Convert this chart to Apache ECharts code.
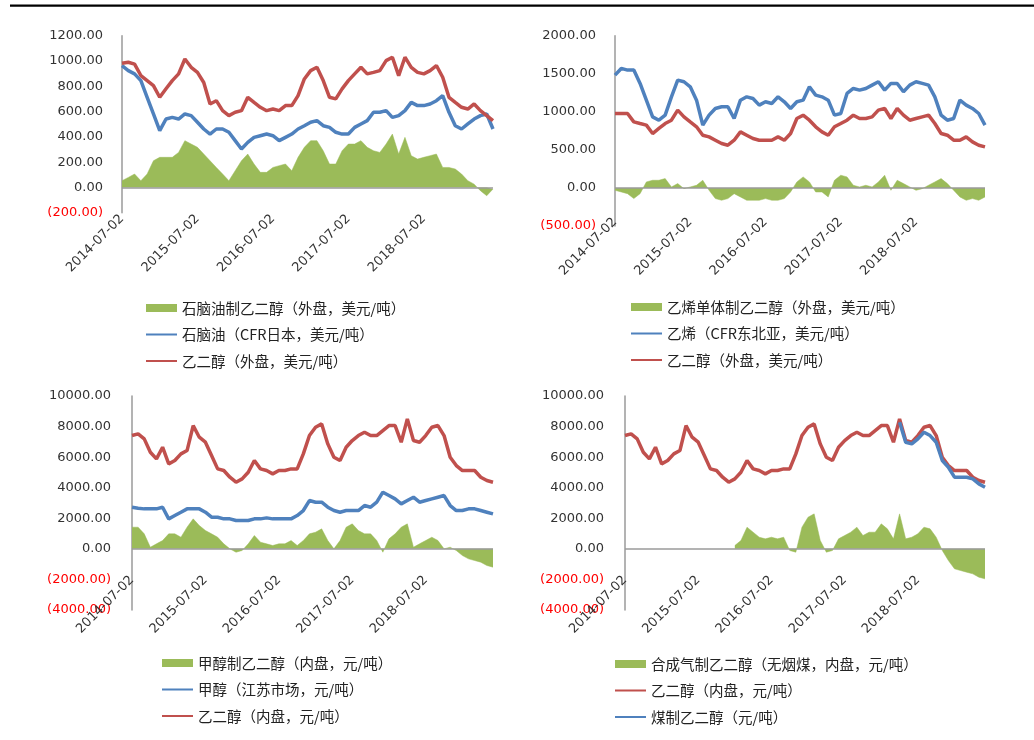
<!DOCTYPE html>
<html><head><meta charset="utf-8">
<script src="https://cdn.jsdelivr.net/npm/echarts@6/dist/echarts.min.js"></script>
<style>html,body{margin:0;padding:0;background:#fff}#c{width:1034px;height:740px}</style>
</head><body><div id="c"></div>
<script>
// ---- categories (monthly, 2014-07 .. 2019-06) ----
const dates = [];
for (let i = 0; i < 60; i++) {
  const m = 6 + i;
  const y = 2014 + Math.floor(m / 12);
  const mm = (m % 12) + 1;
  dates.push(y + '-' + (mm < 10 ? '0' + mm : mm) + '-02');
}
const xTickLabels = ['2014-07-02', '2015-07-02', '2016-07-02', '2017-07-02', '2018-07-02'];

// ---- chart 1: naphtha route (USD/t) ----
const naphthaMargin = [53,79,106,53,106,211,238,238,238,277,370,343,317,264,211,158,106,53,132,211,264,185,119,119,158,172,185,132,238,317,370,370,290,185,185,290,343,343,370,317,290,277,343,422,264,396,251,224,238,251,264,158,158,145,106,53,26,-26,-66,-13];
const naphthaPrice = [964,924,898,845,713,581,449,541,554,541,581,568,515,462,422,462,462,436,370,304,356,396,409,422,409,370,396,422,462,488,515,528,488,475,436,422,422,475,502,528,594,594,607,554,568,607,673,647,647,660,686,726,594,488,462,502,541,568,581,462];
const megUsd1 = [982,990,975,885,845,805,713,780,845,898,1016,950,910,830,660,686,607,568,594,607,713,673,634,607,620,607,647,647,726,858,924,950,845,713,700,779,845,898,950,898,910,924,1003,1030,884,1030,950,910,898,924,964,871,713,673,634,620,660,607,568,528];

// ---- chart 2: ethylene route (USD/t) ----
const ethyleneMargin = [-31,-53,-75,-140,-75,79,101,101,123,13,57,-9,13,35,101,-31,-140,-162,-140,-75,-118,-162,-162,-162,-140,-162,-162,-140,-53,79,145,79,-53,-53,-118,101,167,145,35,13,35,13,79,167,-31,101,57,13,-31,-9,35,79,123,57,-31,-118,-162,-140,-162,-118];
const ethylenePrice = [1482,1570,1548,1548,1373,1153,934,890,956,1197,1417,1395,1329,1153,825,956,1044,1066,1066,912,1153,1197,1175,1088,1132,1110,1197,1132,1044,1132,1153,1329,1219,1197,1153,956,978,1241,1307,1285,1307,1351,1395,1285,1373,1373,1263,1351,1395,1373,1351,1197,956,890,912,1153,1088,1044,978,825];
const megUsd2 = [978,978,978,868,846,825,715,781,846,890,1022,934,868,803,693,671,627,583,561,627,737,693,649,627,627,627,671,627,715,912,956,890,803,737,693,803,846,890,956,912,912,934,1022,1044,912,1044,956,890,912,934,956,846,715,693,627,627,671,605,561,539];

// ---- chart 3: methanol route (CNY/t) ----
const methanolMargin = [1417,1417,981,109,327,545,981,981,763,1417,1962,1526,1199,981,763,327,0,-218,-109,327,872,436,327,218,327,327,545,218,545,981,1090,1308,545,0,545,1417,1635,1199,981,981,545,-218,654,981,1417,1635,109,327,545,763,545,0,109,-109,-436,-654,-763,-872,-1090,-1199];
const methanolPrice = [2725,2660,2616,2616,2616,2725,1962,2180,2398,2616,2616,2616,2398,2071,2071,1962,1962,1853,1853,1853,1962,1962,2027,1962,1962,1962,1962,2180,2507,3161,3052,3052,2725,2507,2398,2507,2507,2507,2834,2725,3052,3706,3488,3270,2943,3161,3379,3052,3161,3270,3379,3488,2834,2507,2507,2616,2616,2507,2398,2289];
const megCny = [7412,7521,7194,6322,5886,6649,5559,5777,6213,6431,8066,7303,6976,6104,5232,5123,4687,4360,4578,5014,5777,5232,5123,4905,5123,5123,5232,5232,6213,7412,7957,8175,6867,5995,5777,6649,7085,7412,7630,7412,7412,7739,8066,8066,6976,8502,7085,6976,7412,7957,8066,7412,5995,5450,5123,5123,5123,4687,4469,4360];

// ---- chart 4: syngas (coal) route (CNY/t) ----
const coalMargin = [null,null,null,null,null,null,null,null,null,null,null,null,null,null,null,null,null,null,
  218,545,1417,1090,763,654,763,654,763,-109,-218,1417,2071,2289,545,-218,-109,654,872,1090,1417,872,1090,1090,1635,1308,654,2289,654,763,981,1417,1308,763,-109,-763,-1308,-1417,-1526,-1635,-1853,-1962];
const coalMegPrice = [null,null,null,null,null,null,null,null,null,null,null,null,null,null,null,null,null,null,null,null,null,null,null,null,null,null,null,null,null,null,null,null,null,null,null,null,null,null,null,null,null,null,null,null,null,
  8284,6976,6867,7194,7630,7412,6976,5777,5341,4687,4687,4687,4578,4251,4033];

// ---- names ----
const names = [
  ['石脑油制乙二醇（外盘，美元/吨）', '石脑油（CFR日本，美元/吨）', '乙二醇（外盘，美元/吨）'],
  ['乙烯单体制乙二醇（外盘，美元/吨）', '乙烯（CFR东北亚，美元/吨）', '乙二醇（外盘，美元/吨）'],
  ['甲醇制乙二醇（内盘，元/吨）', '甲醇（江苏市场，元/吨）', '乙二醇（内盘，元/吨）'],
  ['合成气制乙二醇（无烟煤，内盘，元/吨）', '乙二醇（内盘，元/吨）', '煤制乙二醇（元/吨）']
];

const GREEN = '#9BBB59', BLUE = '#4F81BD', RED = '#C0504D';
const AXIS_FONT = 'DejaVu Sans';
const CJK_FONT = '"Noto Sans CJK SC", sans-serif';
const LINE_ICON = 'path://M0,0L0.01,0Z M0,3L31,3L31,5L0,5Z M0,8L0.01,8Z';

const grids = [
  {left: 122, top: 35.7, width: 371, height: 177},
  {left: 615, top: 35.7, width: 370, height: 190.3},
  {left: 132, top: 396, width: 361, height: 214},
  {left: 625, top: 396, width: 360, height: 214}
];
const yRanges = [[-200, 1200, 200], [-500, 2000, 500], [-4000, 10000, 2000], [-4000, 10000, 2000]];
const xLabelMargin = [4, -6, -32, -32];
const legendPos = [
  {left: 141, top: 295}, {left: 626, top: 294}, {left: 157, top: 650}, {left: 610, top: 651}
];

const seriesData = [
  [[naphthaMargin, GREEN], [naphthaPrice, BLUE], [megUsd1, RED]],
  [[ethyleneMargin, GREEN], [ethylenePrice, BLUE], [megUsd2, RED]],
  [[methanolMargin, GREEN], [methanolPrice, BLUE], [megCny, RED]],
  [[coalMargin, GREEN], [megCny, RED], [coalMegPrice, BLUE]]
];

function fmtY(v) {
  const s = Math.abs(v).toFixed(2);
  return v < 0 ? '{neg|(' + s + ')}' : s;
}

const option = {
  animation: false,
  backgroundColor: '#fff',
  grid: grids,
  xAxis: grids.map((g, i) => ({
    type: 'category', gridIndex: i, data: dates, boundaryGap: false,
    axisLine: {show: false, onZero: false},
    axisTick: {show: false},
    splitLine: {show: false},
    axisLabel: {
      rotate: 45, margin: xLabelMargin[i], color: '#333', fontFamily: AXIS_FONT, fontSize: 13,
      interval: 0,
      formatter: v => xTickLabels.indexOf(v) >= 0 ? v : ''
    }
  })),
  yAxis: grids.map((g, i) => ({
    type: 'value', gridIndex: i, min: yRanges[i][0], max: yRanges[i][1], interval: yRanges[i][2],
    axisLine: {show: true, lineStyle: {color: '#9a9a9a', width: 1.5}},
    axisTick: {show: false},
    splitLine: {show: false},
    axisLabel: {
      color: '#333', fontFamily: AXIS_FONT, fontSize: 13, margin: i < 2 ? 19 : 21,
      formatter: fmtY,
      rich: {neg: {color: '#ff0000', fontFamily: AXIS_FONT, fontSize: 13}}
    }
  })),
  legend: legendPos.map((p, i) => ({
    left: p.left, top: p.top, orient: 'vertical',
    itemWidth: 31, itemHeight: 8, itemGap: 10.5,
    itemStyle: {borderWidth: 0},
    textStyle: {fontFamily: CJK_FONT, fontSize: 14.5, color: '#222', lineHeight: 16},
    data: [
      {name: names[i][0], icon: 'rect'},
      {name: names[i][1], icon: LINE_ICON},
      {name: names[i][2], icon: LINE_ICON}
    ]
  })),
  graphic: [{
    type: 'line', shape: {x1: 10, y1: 5.7, x2: 1034, y2: 5.7},
    style: {stroke: '#000', lineWidth: 2.2}
  }],
  series: []
};

seriesData.forEach((chart, ci) => {
  chart.forEach((sd, si) => {
    const isArea = si === 0;
    const s = {
      type: 'line', name: names[ci][si], xAxisIndex: ci, yAxisIndex: ci,
      data: sd[0], symbol: 'none', showSymbol: false, connectNulls: false,
      color: sd[1],
      itemStyle: {color: sd[1]},
      lineStyle: {color: sd[1], width: isArea ? 0.5 : 3.5},
      z: 2 + si
    };
    if (isArea) {
      s.areaStyle = {color: sd[1], opacity: 1};
      s.markLine = {
        silent: true, symbol: 'none', animation: false,
        label: {show: false},
        lineStyle: {color: '#9a9a9a', type: 'solid', width: 1.5},
        data: [{yAxis: 0}]
      };
    }
    option.series.push(s);
  });
});

const chart = echarts.init(document.getElementById('c'), null, {renderer: 'canvas'});
chart.setOption(option);
</script>
</body></html>
